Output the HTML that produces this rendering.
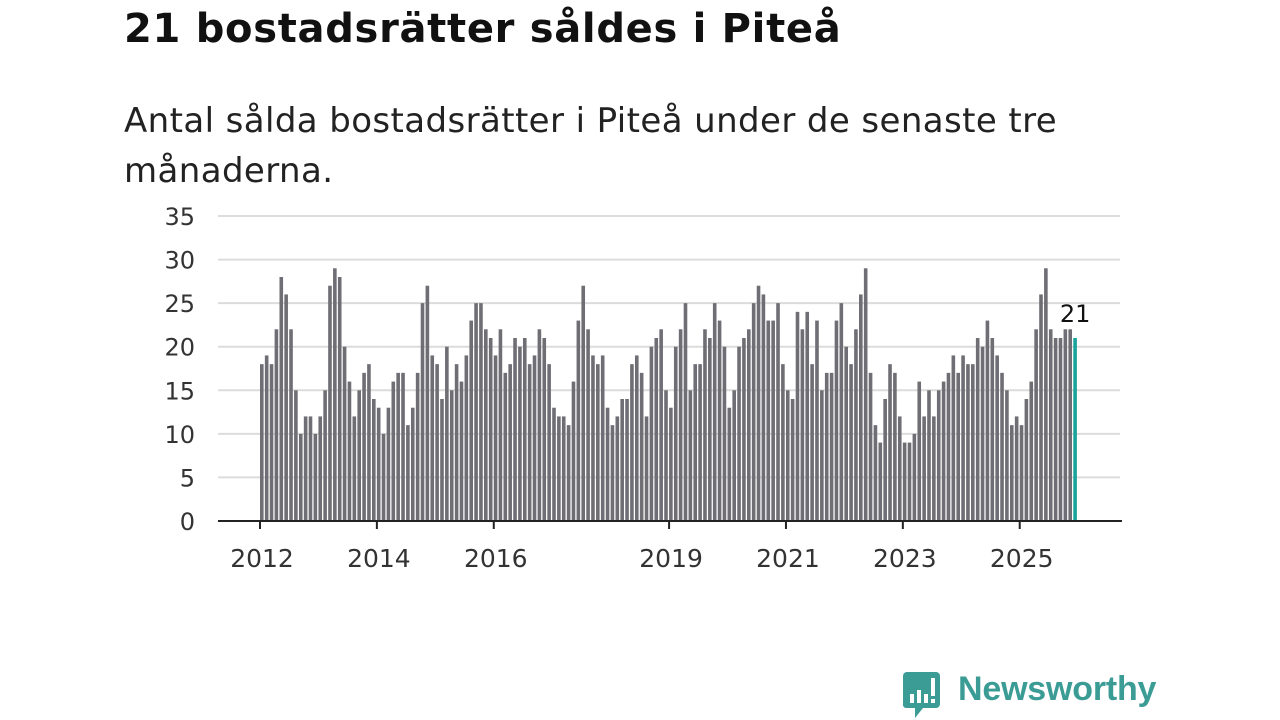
<!DOCTYPE html>
<html><head><meta charset="utf-8"><style>
body{margin:0;width:1280px;height:720px;background:#fff;overflow:hidden;font-family:"Liberation Sans",sans-serif;}
#title{position:absolute;left:124px;top:6px;font-size:40px;font-weight:bold;color:#111;margin:0;font-family:"DejaVu Sans",sans-serif;letter-spacing:0.7px}
#sub{position:absolute;left:124px;top:96px;font-size:34px;color:#222;line-height:50px;width:960px;margin:0;font-family:"DejaVu Sans",sans-serif;letter-spacing:0.4px}
svg{position:absolute;left:0;top:0}
</style></head><body>
<h1 id="title">21 bostadsrätter såldes i Piteå</h1>
<p id="sub">Antal sålda bostadsrätter i Piteå under de senaste tre månaderna.</p>
<svg id="chart" width="1280" height="720"></svg>
<div style="position:absolute;left:903px;top:672px;">
<svg width="40" height="48" style="position:absolute;left:0;top:0">
<path d="M3 0H33a4 4 0 0 1 4 4V32a4 4 0 0 1-4 4H20L12 46V36H3a3 3 0 0 1-3-3V4a4 4 0 0 1 4-4z" fill="#3b9c95"/>
<rect x="7" y="22" width="4" height="9" fill="#fff"/><rect x="14" y="18" width="4" height="13" fill="#fff"/><rect x="21" y="22" width="4" height="9" fill="#fff"/><rect x="28" y="6" width="4" height="18" fill="#fff"/><rect x="28" y="27" width="4" height="4" fill="#fff"/>
</svg>
<span style="position:absolute;left:55px;top:-2px;font-size:34px;font-weight:bold;color:#3b9c95;white-space:nowrap;letter-spacing:-0.2px">Newsworthy</span>
</div>
<script>
const values=[18,19,18,22,28,26,22,15,10,12,12,10,12,15,27,29,28,20,16,12,15,17,18,14,13,10,13,16,17,17,11,13,17,25,27,19,18,14,20,15,18,
16,19,23,25,25,22,21,19,22,17,18,21,20,21,18,19,22,21,18,13,12,12,11,16,23,27,22,19,18,19,13,11,12,14,14,18,19,17,12,20,21,22,15,
13,20,22,25,15,18,18,22,21,25,23,20,13,15,20,21,22,25,27,26,23,23,25,18,15,14,24,22,24,18,23,15,17,17,23,25,20,18,22,26,29,17,11,
9,14,18,17,12,9,9,10,16,12,15,12,15,16,17,19,17,19,18,18,21,20,23,21,19,17,15,11,12,11,14,16,22,26,29,22,21,21,22,22,21];
const yTicks=[0,5,10,15,20,25,30,35];
const xTickYears=[2012,2014,2016,2019,2021,2023,2025];
const startYear=2012;
const svg=document.getElementById('chart');const NS='http://www.w3.org/2000/svg';
const x0=260,step=4.87,bw=3.6,yBase=521,yTop=216,yMax=35;
const FF='DejaVu Sans, sans-serif';
const X=i=>x0+i*step;const Y=v=>yBase-(v/yMax)*(yBase-yTop);
function mk(t,a){const e=document.createElementNS(NS,t);for(const k in a)e.setAttribute(k,a[k]);svg.appendChild(e);return e;}
yTicks.forEach(v=>{
 if(v>0){const g=mk('line',{x1:218,x2:1120,y1:Y(v),y2:Y(v),stroke:'#dcdcdc','stroke-width':2});
 
 }
 const t=mk('text',{x:195,y:Y(v)+9,'text-anchor':'end','font-size':24,fill:'#333','font-family':FF});
 t.textContent=v;
 
 
});
values.forEach((v,i)=>{
 const last=i===values.length-1;
 const r=mk('rect',{x:X(i),y:Y(v),width:bw,height:yBase-Y(v),fill:last?'#1aa39a':'#6f6e74'});
 
 
});
const li=values.length-1;
const lab=mk('text',{x:X(li)+bw/2,y:Y(values[li])-16,'text-anchor':'middle','font-size':24,fill:'#111','font-family':FF});
lab.textContent=values[li];


const ax=mk('line',{x1:218,x2:1122,y1:yBase,y2:yBase,stroke:'#222','stroke-width':2});


xTickYears.forEach(yr=>{
 const x=X((yr-startYear)*12);
 const tk=mk('line',{x1:x,x2:x,y1:yBase,y2:yBase+8,stroke:'#222','stroke-width':2});
 
 
 const t=mk('text',{x:x+2,y:567,'text-anchor':'middle','font-size':25,fill:'#333','font-family':FF});
 t.textContent=yr;
 
 
});
</script>
</body></html>
